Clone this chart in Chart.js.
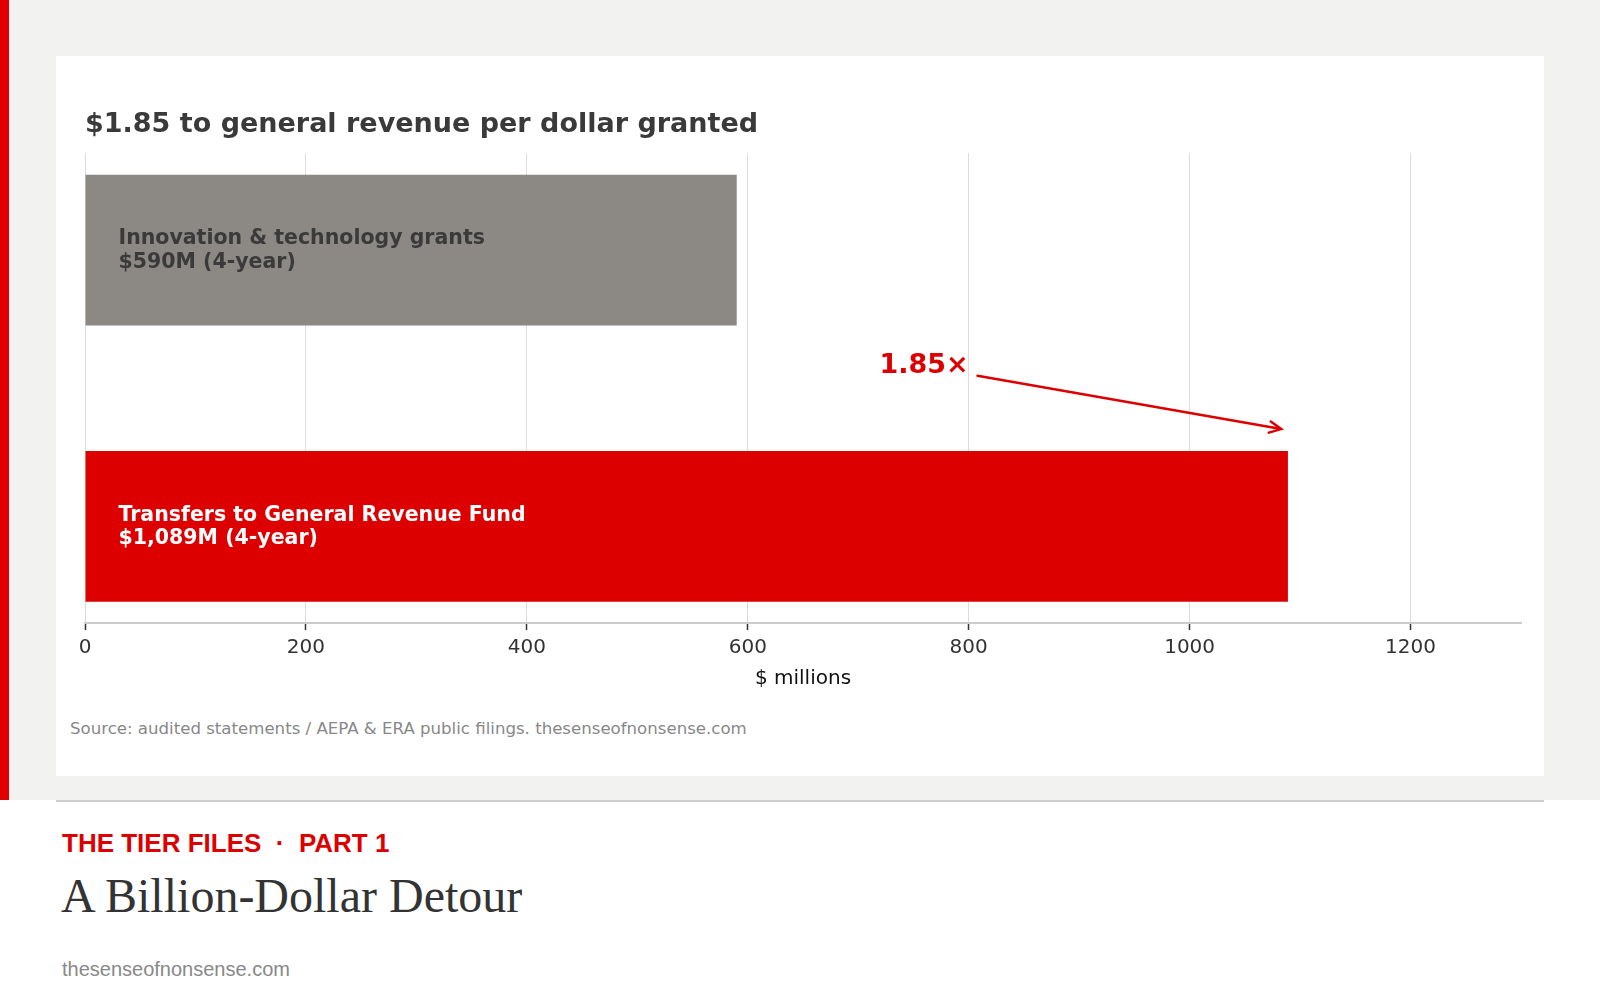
<!DOCTYPE html>
<html>
<head>
<meta charset="utf-8">
<script src="https://cdn.jsdelivr.net/npm/chart.js@4"></script>
<style>
  body { margin: 0; width: 1600px; height: 1000px; background: #fff; position: relative; overflow: hidden; }
  .band { position: absolute; left: 0; top: 0; width: 1600px; height: 800px; background: #f2f2f0; }
  .stripe { position: absolute; left: 0; top: 0; width: 9px; height: 800px; background: #e00000; }
  .card { position: absolute; left: 56px; top: 56px; width: 1488px; height: 720px; background: #fff; }
  .chartbox { position: absolute; left: 0; top: 0; width: 1488px; height: 639px; }
  .source { position: absolute; left: 14px; top: 663px; font: 16.6px "DejaVu Sans"; color: #888; white-space: nowrap; }
  .rule { position: absolute; left: 56px; top: 800px; width: 1488px; height: 2px; background: #cfcfcf; }
  .kicker { position: absolute; left: 62px; top: 830px; font: bold 26px/1 "Liberation Sans"; color: #dd0000; white-space: pre; }
  .headline { position: absolute; left: 61px; top: 872px; font: 48px/1 "Liberation Serif"; color: #333; }
  .site { position: absolute; left: 62px; top: 959px; font: 20px/1 "Liberation Sans"; color: #888; }
</style>
</head>
<body>
<div class="band"></div>
<div class="stripe"></div>
<div class="card">
  <div class="chartbox"><canvas id="bars"></canvas></div>
  <div class="source">Source: audited statements / AEPA &amp; ERA public filings. thesenseofnonsense.com</div>
</div>
<div class="rule"></div>
<div class="kicker">THE TIER FILES  ·  PART 1</div>
<div class="headline">A Billion-Dollar Detour</div>
<div class="site">thesenseofnonsense.com</div>
<script>
// values in $ millions, 4-year totals
const categories = ["Innovation & technology grants", "Transfers to General Revenue Fund"];
const values = [590, 1089];
const valueLabels = ["$590M (4-year)", "$1,089M (4-year)"];
const barColors = ["#8c8984", "#dd0000"];
const textColors = ["#3a3a3a", "#ffffff"];
const xTicksMax = 1300;
const ratioText = "1.85×";

// top category sits highest on the hidden linear y axis
const points = values.map((v, i) => ({ x: v, y: categories.length - 1 - i }));

const barText = {
    id: "barText",
    afterDatasetsDraw(chart) {
        const ctx = chart.ctx;
        const bars = chart.getDatasetMeta(0).data;
        ctx.save();
        ctx.font = "bold 20.5px 'DejaVu Sans'";
        ctx.textBaseline = "middle";
        ctx.textAlign = "left";
        bars.forEach((bar, i) => {
            ctx.fillStyle = textColors[i];
            ctx.fillText(categories[i], bar.base + 33, bar.y - 11);
            ctx.fillText(valueLabels[i], bar.base + 33, bar.y + 12.5);
        });
        ctx.restore();
    },
};

const ratioArrow = {
    id: "ratioArrow",
    afterDatasetsDraw(chart) {
        const ctx = chart.ctx;
        const xs = chart.scales.x, ys = chart.scales.y;
        const tx = xs.getPixelForValue(800), ty = ys.getPixelForValue(0.58);
        const x1 = xs.getPixelForValue(808), y1 = ys.getPixelForValue(0.545);
        const x2 = xs.getPixelForValue(1083), y2 = ys.getPixelForValue(0.352);
        ctx.save();
        ctx.fillStyle = "#dd0000";
        ctx.strokeStyle = "#dd0000";
        ctx.font = "bold 27px 'DejaVu Sans'";
        ctx.textAlign = "right";
        ctx.textBaseline = "middle";
        ctx.fillText(ratioText, tx, ty);
        ctx.lineWidth = 2.5;
        ctx.lineCap = "round";
        ctx.beginPath();
        ctx.moveTo(x1, y1);
        ctx.lineTo(x2, y2);
        const a = Math.atan2(y2 - y1, x2 - x1);
        const h = 13;
        ctx.moveTo(x2 - h * Math.cos(a - 0.45), y2 - h * Math.sin(a - 0.45));
        ctx.lineTo(x2, y2);
        ctx.lineTo(x2 - h * Math.cos(a + 0.45), y2 - h * Math.sin(a + 0.45));
        ctx.stroke();
        ctx.restore();
    },
};

new Chart("bars", {
    type: "bar",
    data: {
        datasets: [
            {
            data: points,
            backgroundColor: barColors,
            borderWidth: 0,
            categoryPercentage: 1,
            barPercentage: 0.546,
            },
        ],
    },
    options: {
        indexAxis: "y",
        responsive: true,
        maintainAspectRatio: false,
        animation: false,
        layout: { padding: { left: 29, right: 23, top: 0, bottom: 0 } },
        plugins: {
            legend: { display: false },
            tooltip: { enabled: false },
            title: {
                display: true,
                text: "$1.85 to general revenue per dollar granted",
                align: "start",
                color: "#3a3a3a",
                font: { family: "'DejaVu Sans'", size: 27, weight: "bold" },
                padding: { top: 53, bottom: 12 },
            },
        },
        scales: {
            x: {
                type: "linear",
                min: 0,
                max: xTicksMax,
                ticks: {
                    stepSize: 200,
                    includeBounds: false,
                    color: "#333",
                    padding: 6,
                    font: { family: "'DejaVu Sans'", size: 20 },
                    callback: (v) => String(v),
                },
                grid: { color: "#dcdcdc", tickColor: "#333", tickLength: 7, tickWidth: 1.5 },
                border: { color: "#cccccc", width: 2 },
                title: {
                    display: true,
                    text: "$ millions",
                    color: "#111",
                    font: { family: "'DejaVu Sans'", size: 20 },
                    padding: { top: 1, bottom: 4 },
                },
            },
            y: {
                type: "linear",
                min: -0.35,
                max: 1.35,
                offset: false,
                display: false,
                ticks: { stepSize: 1, includeBounds: false },
            },
        },
    },
    plugins: [barText, ratioArrow],
});
</script>
</body>
</html>
